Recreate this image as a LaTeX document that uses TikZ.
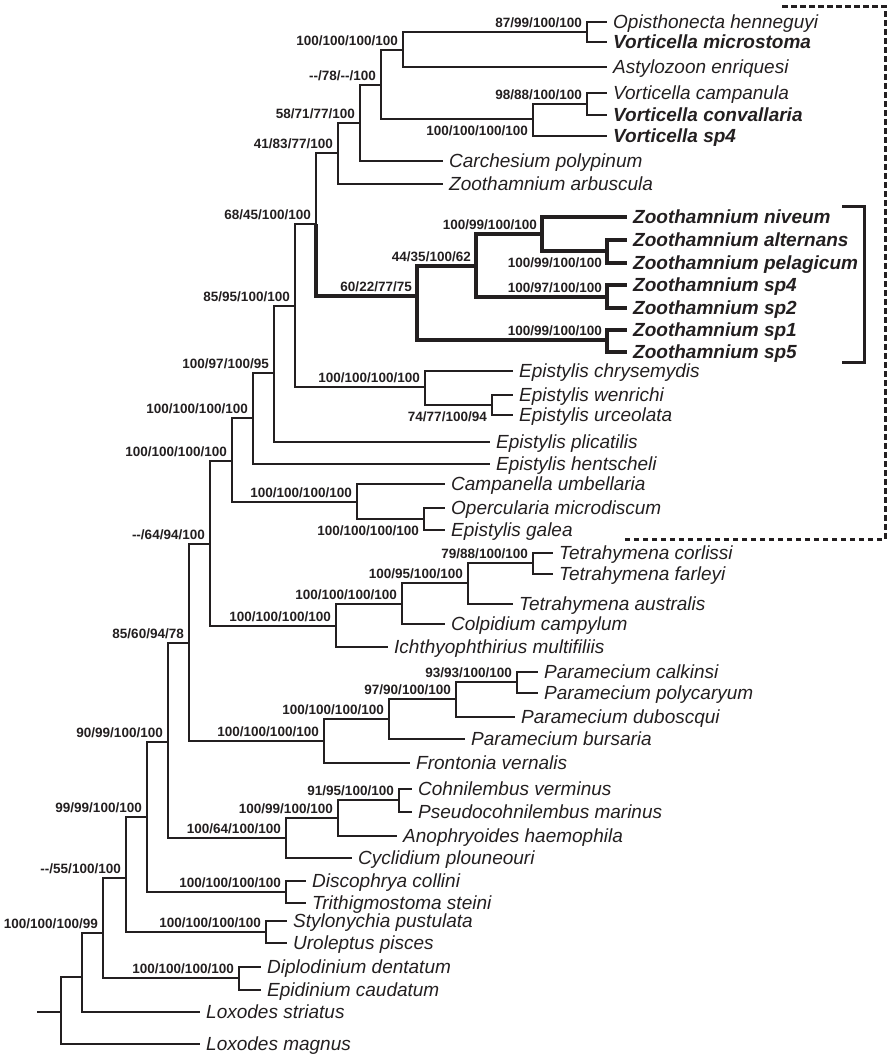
\documentclass[tikz,border=0pt]{standalone}
\usepackage{fontspec}
\setmainfont{Liberation Sans}
\definecolor{ink}{RGB}{35,31,32}
\newcommand{\nd}{\mbox{-}\mbox{-}}

\begin{document}
\begin{tikzpicture}[
          x=1pt, y=-1pt,
          branch/.style={draw=ink, line width=2.4pt},
          hot/.style={draw=ink, line width=4.6pt},
          leaf/.style={anchor=west, inner xsep=6pt, inner ysep=0pt, text height=13.6pt, text depth=0pt, text=ink, font=\fontsize{19}{19}\selectfont\itshape},
          hotleaf/.style={leaf, font=\fontsize{19}{19}\selectfont\bfseries\itshape},
          boot/.style={anchor=base east, inner sep=0pt, text=ink, font=\fontsize{13.5}{13.5}\selectfont\bfseries},
          bup/.style={boot, xshift=-5pt, yshift=4.5pt},
          bdn/.style={boot, xshift=-5pt, yshift=-16.5pt}
        ]
        \useasboundingbox (0,0) rectangle (892,1061);

        % taxa
        \node[leaf] (oph) at (607,22) {Opisthonecta henneguyi};
        \node[hotleaf] (vmi) at (607,42) {Vorticella microstoma};
        \node[leaf] (ast) at (607,67) {Astylozoon enriquesi};
        \node[leaf] (vca) at (607,93) {Vorticella campanula};
        \node[hotleaf] (vco) at (607,115) {Vorticella convallaria};
        \node[hotleaf] (vsp) at (607,136) {Vorticella sp4};
        \node[leaf] (cpo) at (443,161) {Carchesium polypinum};
        \node[leaf] (zar) at (443,184) {Zoothamnium arbuscula};
        \node[hotleaf] (zni) at (627,217) {Zoothamnium niveum};
        \node[hotleaf] (zal) at (627,240) {Zoothamnium alternans};
        \node[hotleaf] (zpe) at (627,263) {Zoothamnium pelagicum};
        \node[hotleaf] (zs4) at (627,285) {Zoothamnium sp4};
        \node[hotleaf] (zs2) at (627,308) {Zoothamnium sp2};
        \node[hotleaf] (zs1) at (627,330) {Zoothamnium sp1};
        \node[hotleaf] (zs5) at (627,352) {Zoothamnium sp5};
        \node[leaf] (ech) at (513,371) {Epistylis chrysemydis};
        \node[leaf] (ewe) at (513,395) {Epistylis wenrichi};
        \node[leaf] (eur) at (513,415) {Epistylis urceolata};
        \node[leaf] (epl) at (490,442) {Epistylis plicatilis};
        \node[leaf] (ehe) at (490,464) {Epistylis hentscheli};
        \node[leaf] (cum) at (445,484) {Campanella umbellaria};
        \node[leaf] (omi) at (445,508) {Opercularia microdiscum};
        \node[leaf] (ega) at (445,530) {Epistylis galea};
        \node[leaf] (tco) at (553,553) {Tetrahymena corlissi};
        \node[leaf] (tfa) at (553,574) {Tetrahymena farleyi};
        \node[leaf] (tau) at (513,604) {Tetrahymena australis};
        \node[leaf] (cca) at (445,624) {Colpidium campylum};
        \node[leaf] (imu) at (388,647) {Ichthyophthirius multifiliis};
        \node[leaf] (pca) at (538,672) {Paramecium calkinsi};
        \node[leaf] (ppo) at (538,693) {Paramecium polycaryum};
        \node[leaf] (pdu) at (515,717) {Paramecium duboscqui};
        \node[leaf] (pbu) at (465,739) {Paramecium bursaria};
        \node[leaf] (fve) at (410,763) {Frontonia vernalis};
        \node[leaf] (cve) at (412,789) {Cohnilembus verminus};
        \node[leaf] (pma) at (412,812) {Pseudocohnilembus marinus};
        \node[leaf] (aha) at (397,836) {Anophryoides haemophila};
        \node[leaf] (cpl) at (352,858) {Cyclidium plouneouri};
        \node[leaf] (dco) at (306,881) {Discophrya collini};
        \node[leaf] (tst) at (306,903) {Trithigmostoma steini};
        \node[leaf] (spu) at (287,921) {Stylonychia pustulata};
        \node[leaf] (upi) at (287,943) {Uroleptus pisces};
        \node[leaf] (dde) at (261,967) {Diplodinium dentatum};
        \node[leaf] (eca) at (261,990) {Epidinium caudatum};
        \node[leaf] (lst) at (200,1012) {Loxodes striatus};
        \node[leaf] (lma) at (200,1044) {Loxodes magnus};

        % internal nodes
        \coordinate (n1) at (587,32);
        \coordinate (n2) at (403,50);
        \coordinate (n3) at (587,104);
        \coordinate (n4) at (533,119);
        \coordinate (n5) at (381,85);
        \coordinate (n6) at (360,123);
        \coordinate (n7) at (338,153);
        \coordinate (n8) at (316,224);
        \coordinate (z1) at (607,251);
        \coordinate (z2) at (542,234);
        \coordinate (z3) at (607,297);
        \coordinate (z4) at (476,266);
        \coordinate (z5) at (607,340);
        \coordinate (z6) at (417,296);
        \coordinate (e1) at (492,405);
        \coordinate (e2) at (425,387);
        \coordinate (n9) at (295,306);
        \coordinate (n10) at (274,373);
        \coordinate (n11) at (253,418);
        \coordinate (c1) at (424,519);
        \coordinate (c2) at (357,502);
        \coordinate (n12) at (232,461);
        \coordinate (t1) at (533,563);
        \coordinate (t2) at (468,583);
        \coordinate (t3) at (402,604);
        \coordinate (t4) at (336,626);
        \coordinate (n13) at (210,544);
        \coordinate (p1) at (517,682);
        \coordinate (p2) at (456,699);
        \coordinate (p3) at (389,719);
        \coordinate (p4) at (324,741);
        \coordinate (n14) at (189,643);
        \coordinate (h1) at (399,800);
        \coordinate (h2) at (338,818);
        \coordinate (h3) at (286,838);
        \coordinate (n15) at (168,742);
        \coordinate (d1) at (286,892);
        \coordinate (n16) at (147,817);
        \coordinate (s1) at (266,932);
        \coordinate (n17) at (126,878);
        \coordinate (i1) at (239,978);
        \coordinate (n18) at (103,933);
        \coordinate (n19) at (82,977);
        \coordinate (root) at (61,1012);
        \coordinate (stem) at (37,1012);

        % branches
        \draw[branch] (n1) |- (oph.west) (n1) |- (vmi.west)
          (n2) |- (n1) (n2) |- (ast.west)
          (n3) |- (vca.west) (n3) |- (vco.west)
          (n4) |- (n3) (n4) |- (vsp.west)
          (n5) |- (n2) (n5) |- (n4)
          (n6) |- (n5) (n6) |- (cpo.west)
          (n7) |- (n6) (n7) |- (zar.west)
          (n8) |- (n7)
          (e1) |- (ewe.west) (e1) |- (eur.west)
          (e2) |- (ech.west) (e2) |- (e1)
          (n9) |- (n8) (n9) |- (e2)
          (n10) |- (n9) (n10) |- (epl.west)
          (n11) |- (n10) (n11) |- (ehe.west)
          (c1) |- (omi.west) (c1) |- (ega.west)
          (c2) |- (cum.west) (c2) |- (c1)
          (n12) |- (n11) (n12) |- (c2)
          (t1) |- (tco.west) (t1) |- (tfa.west)
          (t2) |- (t1) (t2) |- (tau.west)
          (t3) |- (t2) (t3) |- (cca.west)
          (t4) |- (t3) (t4) |- (imu.west)
          (n13) |- (n12) (n13) |- (t4)
          (p1) |- (pca.west) (p1) |- (ppo.west)
          (p2) |- (p1) (p2) |- (pdu.west)
          (p3) |- (p2) (p3) |- (pbu.west)
          (p4) |- (p3) (p4) |- (fve.west)
          (n14) |- (n13) (n14) |- (p4)
          (h1) |- (cve.west) (h1) |- (pma.west)
          (h2) |- (h1) (h2) |- (aha.west)
          (h3) |- (h2) (h3) |- (cpl.west)
          (n15) |- (n14) (n15) |- (h3)
          (d1) |- (dco.west) (d1) |- (tst.west)
          (n16) |- (n15) (n16) |- (d1)
          (s1) |- (spu.west) (s1) |- (upi.west)
          (n17) |- (n16) (n17) |- (s1)
          (i1) |- (dde.west) (i1) |- (eca.west)
          (n18) |- (n17) (n18) |- (i1)
          (n19) |- (n18) (n19) |- (lst.west)
          (root) |- (n19) (root) |- (lma.west)
          (stem) -- (root);

        % Zoothamnium clade in bold
        \draw[hot] (n8) |- (z6)
          (z6) |- (z4) (z6) |- (z5)
          (z4) |- (z2) (z4) |- (z3)
          (z2) |- (zni.west) (z2) |- (z1)
          (z1) |- (zal.west) (z1) |- (zpe.west)
          (z3) |- (zs4.west) (z3) |- (zs2.west)
          (z5) |- (zs1.west) (z5) |- (zs5.west);

        % support values
        \node[bup] (b1) at (n1) {87/99/100/100};
        \node[bup] (b2) at (n2) {100/100/100/100};
        \node[bup] (b3) at (n3) {98/88/100/100};
        \node[bdn] (b4) at (n4) {100/100/100/100};
        \node[bup] (b5) at (n5) {\nd/78/\nd/100};
        \node[bup] (b6) at (n6) {58/71/77/100};
        \node[bup] (b7) at (n7) {41/83/77/100};
        \node[bup] (b8) at (n8) {68/45/100/100};
        \node[bdn] (bz1) at (z1) {100/99/100/100};
        \node[bup] (bz2) at (z2) {100/99/100/100};
        \node[bup] (bz3) at (z3) {100/97/100/100};
        \node[bup] (bz4) at (z4) {44/35/100/62};
        \node[bup] (bz5) at (z5) {100/99/100/100};
        \node[bup] (bz6) at (z6) {60/22/77/75};
        \node[bdn] (be1) at (e1) {74/77/100/94};
        \node[bup] (be2) at (e2) {100/100/100/100};
        \node[bup] (b9) at (n9) {85/95/100/100};
        \node[bup] (b10) at (n10) {100/97/100/95};
        \node[bup] (b11) at (n11) {100/100/100/100};
        \node[bdn] (bc1) at (c1) {100/100/100/100};
        \node[bup] (bc2) at (c2) {100/100/100/100};
        \node[bup] (b12) at (n12) {100/100/100/100};
        \node[bup] (bt1) at (t1) {79/88/100/100};
        \node[bup] (bt2) at (t2) {100/95/100/100};
        \node[bup] (bt3) at (t3) {100/100/100/100};
        \node[bup] (bt4) at (t4) {100/100/100/100};
        \node[bup] (b13) at (n13) {\nd/64/94/100};
        \node[bup] (bp1) at (p1) {93/93/100/100};
        \node[bup] (bp2) at (p2) {97/90/100/100};
        \node[bup] (bp3) at (p3) {100/100/100/100};
        \node[bup] (bp4) at (p4) {100/100/100/100};
        \node[bup] (b14) at (n14) {85/60/94/78};
        \node[bup] (bh1) at (h1) {91/95/100/100};
        \node[bup] (bh2) at (h2) {100/99/100/100};
        \node[bup] (bh3) at (h3) {100/64/100/100};
        \node[bup] (b15) at (n15) {90/99/100/100};
        \node[bup] (bd1) at (d1) {100/100/100/100};
        \node[bup] (b16) at (n16) {99/99/100/100};
        \node[bup] (bs1) at (s1) {100/100/100/100};
        \node[bup] (b17) at (n17) {\nd/55/100/100};
        \node[bup] (bi1) at (i1) {100/100/100/100};
        \node[bup] (b18) at (n18) {100/100/100/99};

        % peritrich box and bracket
        \draw[ink, line width=3pt, dash pattern=on 5.5pt off 3.5pt] (782,6) -- (885,6) -- (885,539) -- (625,539);
        \draw[ink, line width=3pt] (842,206) -- (864,206) -- (864,362) -- (842,362);
      \end{tikzpicture}
\end{document}
